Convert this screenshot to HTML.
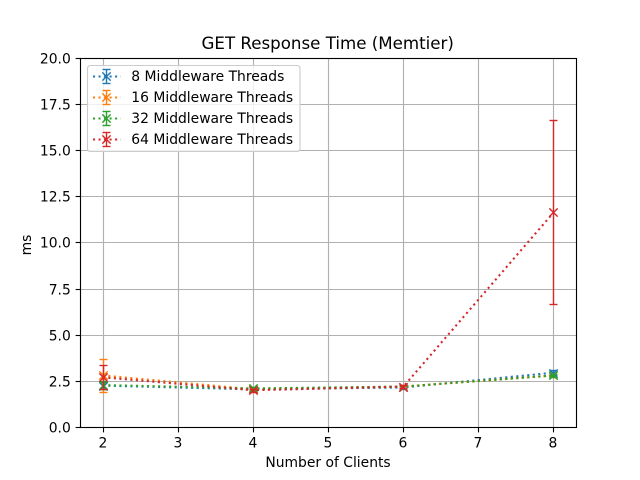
<!DOCTYPE html>
<html>
<head>
<meta charset="utf-8">
<title>GET Response Time (Memtier)</title>
<style>
html,body{margin:0;padding:0;background:#fff;}
svg{display:block;}
text{font-family:"DejaVu Sans","Liberation Sans",sans-serif;fill:#000;}
</style>
</head>
<body>
<svg id="chart" xmlns="http://www.w3.org/2000/svg" width="640" height="480" viewBox="0 0 640 480"></svg>
<script>
const clients = [2, 4, 6, 8];
const seriesNames = ["8 Middleware Threads", "16 Middleware Threads", "32 Middleware Threads", "64 Middleware Threads"];
const seriesColors = ["#1f77b4", "#ff7f0e", "#2ca02c", "#d62728"];
const means8 = [2.25, 2.05, 2.15, 2.95];
const means16 = [2.8, 2.05, 2.2, 2.8];
const means32 = [2.28, 2.1, 2.2, 2.8];
const means64 = [2.7, 2.0, 2.2, 11.63];
const errs8 = [0.2, 0.08, 0.08, 0.12];
const errs16 = [0.88, 0.08, 0.08, 0.1];
const errs32 = [0.22, 0.08, 0.08, 0.1];
const errs64 = [0.65, 0.08, 0.08, 4.98];
const xTicks = [2, 3, 4, 5, 6, 7, 8];
const yTicks = [0, 2.5, 5, 7.5, 10, 12.5, 15, 17.5, 20];
const yTickLabels = ["0.0", "2.5", "5.0", "7.5", "10.0", "12.5", "15.0", "17.5", "20.0"];
const chartTitle = "GET Response Time (Memtier)";
const xAxisTitle = "Number of Clients";
const yAxisTitle = "ms";

const allMeans = [means8, means16, means32, means64];
const allErrs = [errs8, errs16, errs32, errs64];

const svg = document.getElementById("chart");
const NS = "http://www.w3.org/2000/svg";
const plot = {left: 80, right: 576, top: 57.6, bottom: 427.2};
const xMin = 1.7, xMax = 8.3, yMin = 0, yMax = 20;
const errWidth = 1.39;

function xScale(v) { return plot.left + (v - xMin) / (xMax - xMin) * (plot.right - plot.left); }
function yScale(v) { return plot.bottom - (v - yMin) / (yMax - yMin) * (plot.bottom - plot.top); }
function snap(p) { return Math.floor(p + 0.5) + 0.5; }

function el(parent, tag, attrs, text) {
  const node = document.createElementNS(NS, tag);
  for (const k in attrs) node.setAttribute(k, attrs[k]);
  if (text !== undefined) node.textContent = text;
  parent.appendChild(node);
  return node;
}
function drawLine(parent, x1, y1, x2, y2, stroke, width, dash) {
  const attrs = {x1: x1, y1: y1, x2: x2, y2: y2, stroke: stroke, "stroke-width": width};
  if (dash) attrs["stroke-dasharray"] = dash;
  return el(parent, "line", attrs);
}
function drawCross(parent, cx, cy, color) {
  const r = 4.17;
  const p = el(parent, "path", {
    d: "M" + (cx - r) + " " + (cy - r) + "L" + (cx + r) + " " + (cy + r) + "M" + (cx - r) + " " + (cy + r) + "L" + (cx + r) + " " + (cy - r),
    stroke: color, "stroke-width": 1.4, fill: "none"
  });
  return p;
}

const bg = el(svg, "rect", {x: 0, y: 0, width: 640, height: 480, fill: "#fff"});



const left = snap(plot.left), right = snap(plot.right), top_ = snap(plot.top), bottom = snap(plot.bottom);

const gridGroup = el(svg, "g", {});


xTicks.forEach(function (t) {
  const x = snap(xScale(t));
  const g = drawLine(gridGroup, x, top_, x, bottom, "#b0b0b0", 1.11);
  
  
});
yTicks.forEach(function (t) {
  const y = snap(yScale(t));
  const g = drawLine(gridGroup, left, y, right, y, "#b0b0b0", 1.11);
  
  
});

allMeans.forEach(function (means, s) {
  const color = seriesColors[s];
  const errs = allErrs[s];
  const group = el(svg, "g", {});
  
  

  const points = means.map(function (m, i) { return (xScale(clients[i]) + 0.3) + "," + yScale(m); }).join(" ");
  const line = el(group, "polyline", {points: points, fill: "none", stroke: color, "stroke-width": 2.08, "stroke-dasharray": "2.08 3.44"});
  
  

  means.forEach(function (m, i) {
    const x = snap(xScale(clients[i]));
    const hi = snap(yScale(m + errs[i]));
    const lo = snap(yScale(m - errs[i]));
    const bar = drawLine(group, x, hi, x, lo, color, errWidth);
    
    
    const capTop = drawLine(group, x - 4, hi, x + 4, hi, color, errWidth);
    
    
    const capBottom = drawLine(group, x - 4, lo, x + 4, lo, color, errWidth);
    
    
    const mark = drawCross(group, x, snap(yScale(m)), color);
    
    
  });
});

const frame = el(svg, "rect", {x: left, y: top_, width: right - left, height: bottom - top_, fill: "none", stroke: "#000", "stroke-width": 1.11});



xTicks.forEach(function (t) {
  const x = snap(xScale(t));
  const tick = drawLine(svg, x, bottom, x, bottom + 4.86, "#000", 1.11);
  
  
  const label = el(svg, "text", {x: x - 0.6, y: 447.5, "font-size": 13.89, "text-anchor": "middle"}, String(t));
  
  
});
yTicks.forEach(function (t, i) {
  const y = snap(yScale(t));
  const tick = drawLine(svg, left - 4.86, y, left, y, "#000", 1.11);
  
  
  const label = el(svg, "text", {x: 70.8, y: y + 5.2, "font-size": 13.89, "text-anchor": "end"}, yTickLabels[i]);
  
  
});

const title = el(svg, "text", {x: 327.7, y: 48.8, "font-size": 16.67, "text-anchor": "middle"}, chartTitle);


const xTitle = el(svg, "text", {x: 328, y: 467, "font-size": 13.89, "text-anchor": "middle"}, xAxisTitle);


const yTitle = el(svg, "text", {x: 0, y: 0, "font-size": 13.89, "text-anchor": "middle", transform: "translate(31 245) rotate(-90)"}, yAxisTitle);



const legend = el(svg, "g", {});


const legendBox = el(legend, "rect", {x: 87.5, y: 65.5, width: 212.5, height: 86, rx: 2.8, ry: 2.8, fill: "#fff", "fill-opacity": 0.8, stroke: "#ccc", "stroke-width": 1.11});


seriesNames.forEach(function (name, i) {
  const y = 76.5 + i * 21;
  const color = seriesColors[i];
  const entry = el(legend, "g", {});
  
  
  const sample = drawLine(entry, 93, y, 120.8, y, color, 2.08, "2.08 3.44");
  
  
  const bar = drawLine(entry, 106.5, y - 7, 106.5, y + 7, color, errWidth);
  
  
  const capTop = drawLine(entry, 102.5, y - 7, 110.5, y - 7, color, errWidth);
  
  
  const capBottom = drawLine(entry, 102.5, y + 7, 110.5, y + 7, color, errWidth);
  
  
  const mark = drawCross(entry, 106.5, y, color);
  
  
  const label = el(entry, "text", {x: 131.3, y: 81 + i * 21, "font-size": 13.89}, name);
  
  
});
</script>
</body>
</html>
